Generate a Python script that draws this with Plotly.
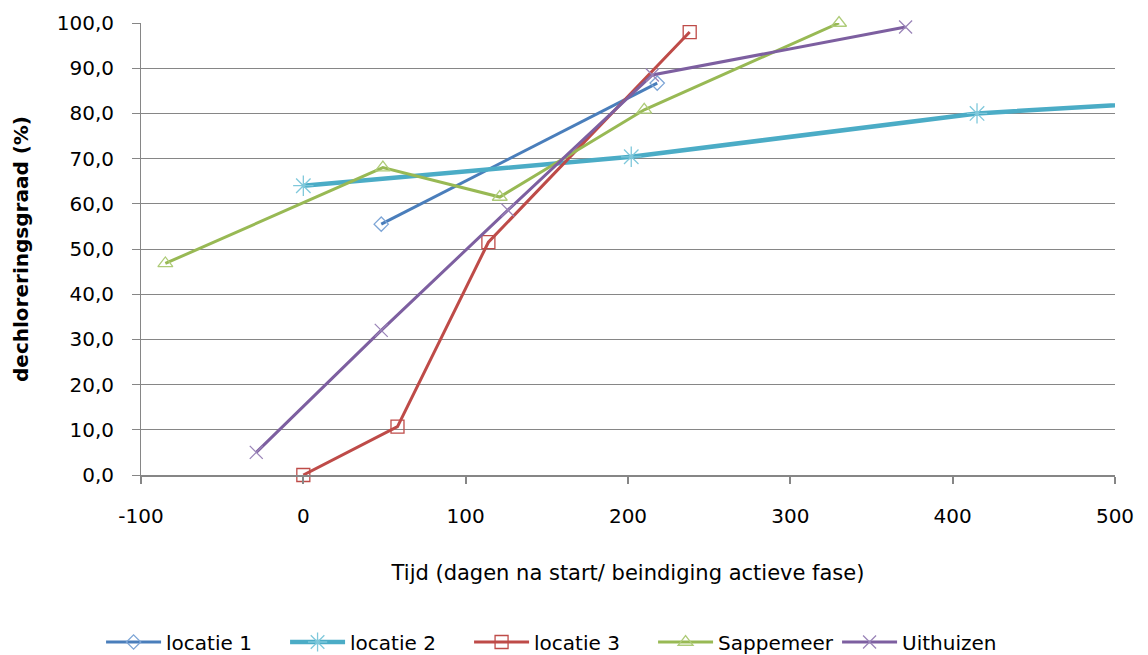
import plotly.graph_objects as go

# measured values (days, % dechlorination)
loc1_x = [48, 218]
loc1_y = [55.5, 86.7]

loc2_x = [0, 202, 415, 620]
loc2_y = [64.0, 70.4, 80.0, 84.4]

loc3_x = [0, 58, 114, 238]
loc3_y = [0.0, 10.7, 51.5, 98.0]

sap_x = [-85, 49, 121, 210, 330]
sap_y = [46.8, 68.0, 61.5, 80.8, 100.0]

uit_x = [-29, 48, 126, 215, 371]
uit_y = [5.0, 32.0, 58.6, 88.5, 99.1]

x_ticks = [-100, 0, 100, 200, 300, 400, 500]
x_labels = ["-100", "0", "100", "200", "300", "400", "500"]
y_ticks = [0, 10, 20, 30, 40, 50, 60, 70, 80, 90, 100]

FONT = "DejaVu Sans, sans-serif"
GRID = "#868686"

series = [
    ("locatie 1", loc1_x, loc1_y, "#4A7EBB", "#7DA5D6", "diamond-open", 3, 11),
    ("locatie 2", loc2_x, loc2_y, "#4BACC6", "#7FC8DB", "asterisk-open", 4.5, 17),
    ("locatie 3", loc3_x, loc3_y, "#BE4B48", "#BE4B48", "square-open", 3, 13),
    ("Sappemeer", sap_x, sap_y, "#98B954", "#AECB78", "triangle-up-open", 3, 13),
    ("Uithuizen", uit_x, uit_y, "#7D5FA0", "#9A84B8", "x-thin-open", 3, 13),
]

fig = go.Figure()
for name, xs, ys, lc, mc, sym, lw, ms in series:
    fig.add_trace(go.Scatter(
        x=xs, y=ys, name=name, mode="lines+markers",
        line=dict(color=lc, width=lw),
        marker=dict(symbol=sym, size=ms, color=mc, line=dict(color=mc, width=1.3)),
        cliponaxis=False,
    ))

# page is drawn 8px in from the top-left corner, margins compensate
fig.update_layout(
    width=1148, height=655,
    margin=dict(l=133, r=41, t=15, b=188, autoexpand=False),
    paper_bgcolor="white", plot_bgcolor="white",
    separators=",.",
    font=dict(family=FONT, size=20, color="black"),
    showlegend=True,
    legend=dict(orientation="h", x=-0.041, xanchor="left", y=-0.3695, yanchor="middle",
                font=dict(size=20), itemwidth=55, entrywidth=114, traceorder="normal"),
)

fig.update_xaxes(
    range=[-100, 500], tickvals=x_ticks, ticktext=x_labels,
    showgrid=False, zeroline=False, automargin=False,
    showline=True, linecolor=GRID, linewidth=2,
    ticks="outside", ticklen=7, tickcolor=GRID, tickwidth=1.5,
    tickfont=dict(size=20), ticklabelstandoff=15,
    title=dict(text="Tijd (dagen na start/ beindiging actieve fase)", font=dict(size=21), standoff=38),
)
fig.update_yaxes(
    range=[0, 100], tickvals=y_ticks, tickformat=".1f",
    showgrid=True, gridcolor=GRID, gridwidth=1, zeroline=False, automargin=False,
    showline=True, linecolor=GRID, linewidth=1,
    ticks="outside", ticklen=8, tickcolor=GRID,
    tickfont=dict(size=20), ticklabelstandoff=14,
    title=dict(text="<b>dechloreringsgraad (%)</b>", font=dict(size=20), standoff=22),
)

fig.write_html("out.html")
